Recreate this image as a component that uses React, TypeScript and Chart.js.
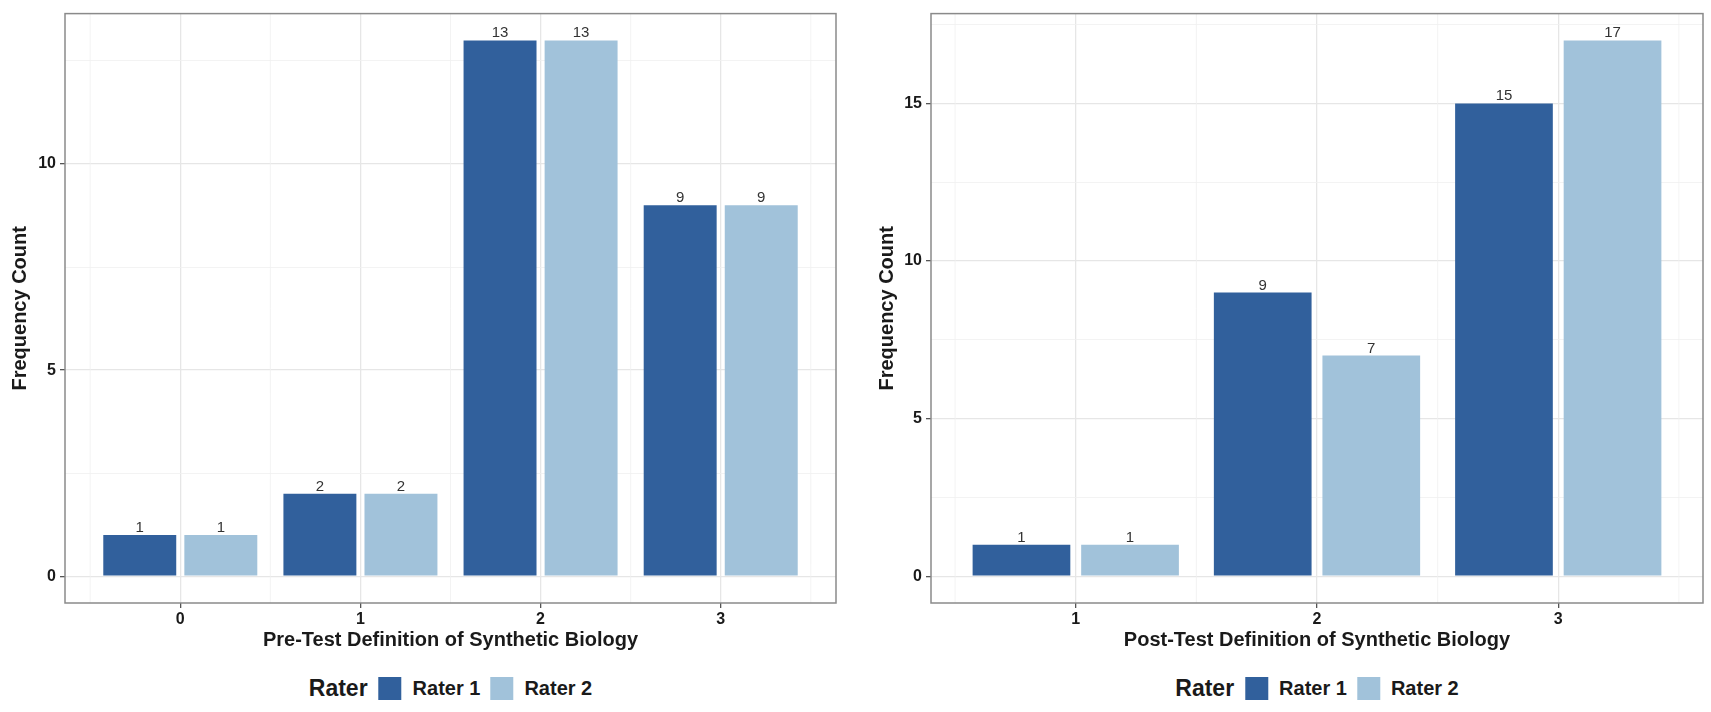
import { useEffect, useRef } from "react"
import { Chart, registerables } from "chart.js"

Chart.register(...registerables)

const FONT = '"Liberation Sans", Arial, Helvetica, sans-serif'

// Pre-test panel
const preCategories = ["0", "1", "2", "3"]
const preRater1 = [1, 2, 13, 9]
const preRater2 = [1, 2, 13, 9]
const preYTicks = [0, 5, 10]

// Post-test panel
const postCategories = ["1", "2", "3"]
const postRater1 = [1, 9, 15]
const postRater2 = [1, 7, 17]
const postYTicks = [0, 5, 10, 15]

const raterLabels = ["Rater 1", "Rater 2"]
const raterColors = ["#31609C", "#A1C2DA"]

const MAJOR_GRID = "#e6e6e6"
const MINOR_GRID = "#f0f0f0"

const valueLabels = {
  id: "valueLabels",
  afterDatasetsDraw(chart: any) {
    const ctx = chart.ctx
    ctx.save()
    ctx.font = `15px ${FONT}`
    ctx.fillStyle = "#333333"
    ctx.textAlign = "center"
    ctx.textBaseline = "alphabetic"
    chart.data.datasets.forEach((ds: any, di: number) => {
      const meta = chart.getDatasetMeta(di)
      meta.data.forEach((bar: any, i: number) => {
        ctx.fillText(String(ds.data[i].y), bar.x, bar.y - 3)
      })
    })
    ctx.restore()
  },
}

// vertical minor grid lines between the categories (kept out of the tick list so bar widths stay right)
const minorXGrid = {
  id: "minorXGrid",
  beforeDatasetsDraw(chart: any) {
    const x = chart.scales.x
    const { top, bottom } = chart.chartArea
    const ctx = chart.ctx
    const n = chart.data.datasets[0].data.length
    ctx.save()
    ctx.strokeStyle = MINOR_GRID
    ctx.lineWidth = 0.8
    for (let i = 0; i <= n; i++) {
      const px = x.getPixelForValue(i - 0.5)
      ctx.beginPath()
      ctx.moveTo(px, top)
      ctx.lineTo(px, bottom)
      ctx.stroke()
    }
    ctx.restore()
  },
}

const panelBorder = {
  id: "panelBorder",
  afterDraw(chart: any) {
    const { left, top, right, bottom } = chart.chartArea
    const ctx = chart.ctx
    ctx.save()
    ctx.strokeStyle = "#8a8a8a"
    ctx.lineWidth = 1.5
    ctx.strokeRect(left, top, right - left, bottom - top)
    ctx.restore()
  },
}

type PanelProps = {
  categories: string[]
  rater1: number[]
  rater2: number[]
  yTicks: number[]
  xTitle: string
  xPad: number
  left: number
  width: number
  yAxisWidth: number
  padRight: number
}

const HEIGHT = 660
const PLOT_BOTTOM = 603

function Panel(props: PanelProps) {
  const chartRef = useRef<HTMLCanvasElement>(null)
  const chartInstance = useRef<Chart | null>(null)

  useEffect(() => {
    if (!chartRef.current) return
    if (chartInstance.current) chartInstance.current.destroy()

    const { categories, rater1, rater2, yTicks } = props
    const yMax = Math.max(...rater1, ...rater2)
    const yMin = -yMax * 0.05
    const yTop = yMax * 1.05
    const yStep = yTicks[1] - yTicks[0]
    const yAll = [...yTicks, ...yTicks.map((v) => v + yStep / 2)]
      .filter((v) => v >= yMin && v <= yTop)
      .sort((a, b) => a - b)

    const ctx = chartRef.current.getContext("2d")
    if (!ctx) return
    chartInstance.current = new Chart(ctx, {
      type: "bar",
      data: {
        datasets: [rater1, rater2].map((vals, d) => ({
          label: raterLabels[d],
          data: vals.map((v, i) => ({ x: i, y: v })),
          backgroundColor: raterColors[d],
          borderWidth: 0,
          categoryPercentage: 0.9,
          barPercentage: 0.9,
        })),
      },
      options: {
        responsive: false,
        animation: false,
        layout: { padding: { top: 8, right: props.padRight, left: 0, bottom: 0 } },
        plugins: {
          legend: { display: false },
          tooltip: { enabled: false },
        },
        scales: {
          x: {
            type: "linear",
            offset: false,
            min: -props.xPad,
            max: categories.length - 1 + props.xPad,
            afterBuildTicks: (scale: any) => {
              scale.ticks = categories.map((_, i) => ({ value: i }))
            },
            afterFit: (scale: any) => {
              scale.height = HEIGHT - PLOT_BOTTOM
            },
            border: { display: false },
            grid: {
              offset: false,
              color: MAJOR_GRID,
              lineWidth: 1.3,
              tickColor: "#555555",
              tickLength: 5,
              tickWidth: 1.3,
            },
            ticks: {
              autoSkip: false,
              maxRotation: 0,
              padding: 2,
              color: "#1a1a1a",
              font: { family: FONT, size: 16, weight: "bold" },
              callback: (value: any) => categories[value] ?? "",
            },
            title: {
              display: true,
              text: props.xTitle,
              color: "#1a1a1a",
              font: { family: FONT, size: 20, weight: "bold" },
              padding: { top: 0, bottom: 8 },
            },
          },
          y: {
            type: "linear",
            min: yMin,
            max: yTop,
            afterBuildTicks: (scale: any) => {
              scale.ticks = yAll.map((v) => ({ value: v }))
            },
            afterFit: (scale: any) => {
              scale.width = props.yAxisWidth
            },
            border: { display: false },
            grid: {
              color: (c: any) => (yTicks.includes(c.tick?.value) ? MAJOR_GRID : MINOR_GRID),
              lineWidth: (c: any) => (yTicks.includes(c.tick?.value) ? 1.3 : 0.8),
              tickColor: (c: any) => (yTicks.includes(c.tick?.value) ? "#555555" : "rgba(0,0,0,0)"),
              tickLength: 5,
              tickWidth: 1.3,
            },
            ticks: {
              autoSkip: false,
              padding: 4,
              color: "#1a1a1a",
              font: { family: FONT, size: 16, weight: "bold" },
              callback: (value: any) => (yTicks.includes(value) ? String(value) : ""),
            },
            title: {
              display: true,
              text: "Frequency Count",
              color: "#1a1a1a",
              font: { family: FONT, size: 20, weight: "bold" },
              padding: { top: 8, bottom: 0 },
            },
          },
        },
      },
      plugins: [minorXGrid, valueLabels, panelBorder],
    } as any)

    return () => {
      if (chartInstance.current) {
        chartInstance.current.destroy()
        chartInstance.current = null
      }
    }
  }, [])

  const plotCenter = props.left + (props.yAxisWidth + props.width - props.padRight) / 2

  return (
    <>
      <canvas
        ref={chartRef}
        width={props.width}
        height={HEIGHT}
        style={{ position: "absolute", left: props.left, top: 0, width: props.width, height: HEIGHT }}
      />
      <div
        style={{
          position: "absolute",
          left: plotCenter,
          top: 677,
          height: 23,
          transform: "translateX(-50%)",
          display: "flex",
          alignItems: "center",
          fontFamily: FONT,
          fontWeight: "bold",
          color: "#1a1a1a",
          whiteSpace: "nowrap",
        }}
      >
        <span style={{ fontSize: 23, marginRight: 11 }}>Rater</span>
        {raterLabels.map((label, i) => (
          <span key={label} style={{ display: "flex", alignItems: "center", marginLeft: i > 0 ? 10 : 0 }}>
            <span style={{ width: 23, height: 23, background: raterColors[i], marginRight: 11 }} />
            <span style={{ fontSize: 20 }}>{label}</span>
          </span>
        ))}
      </div>
    </>
  )
}

export default function App() {
  return (
    <div style={{ position: "absolute", left: 0, top: 0, width: 1711, height: 712, background: "#ffffff" }}>
      <Panel
        categories={preCategories}
        rater1={preRater1}
        rater2={preRater2}
        yTicks={preYTicks}
        xTitle="Pre-Test Definition of Synthetic Biology"
        xPad={0.64}
        left={0}
        width={845}
        yAxisWidth={65}
        padRight={9}
      />
      <Panel
        categories={postCategories}
        rater1={postRater1}
        rater2={postRater2}
        yTicks={postYTicks}
        xTitle="Post-Test Definition of Synthetic Biology"
        xPad={0.6}
        left={867}
        width={844}
        yAxisWidth={64}
        padRight={8}
      />
    </div>
  )
}
